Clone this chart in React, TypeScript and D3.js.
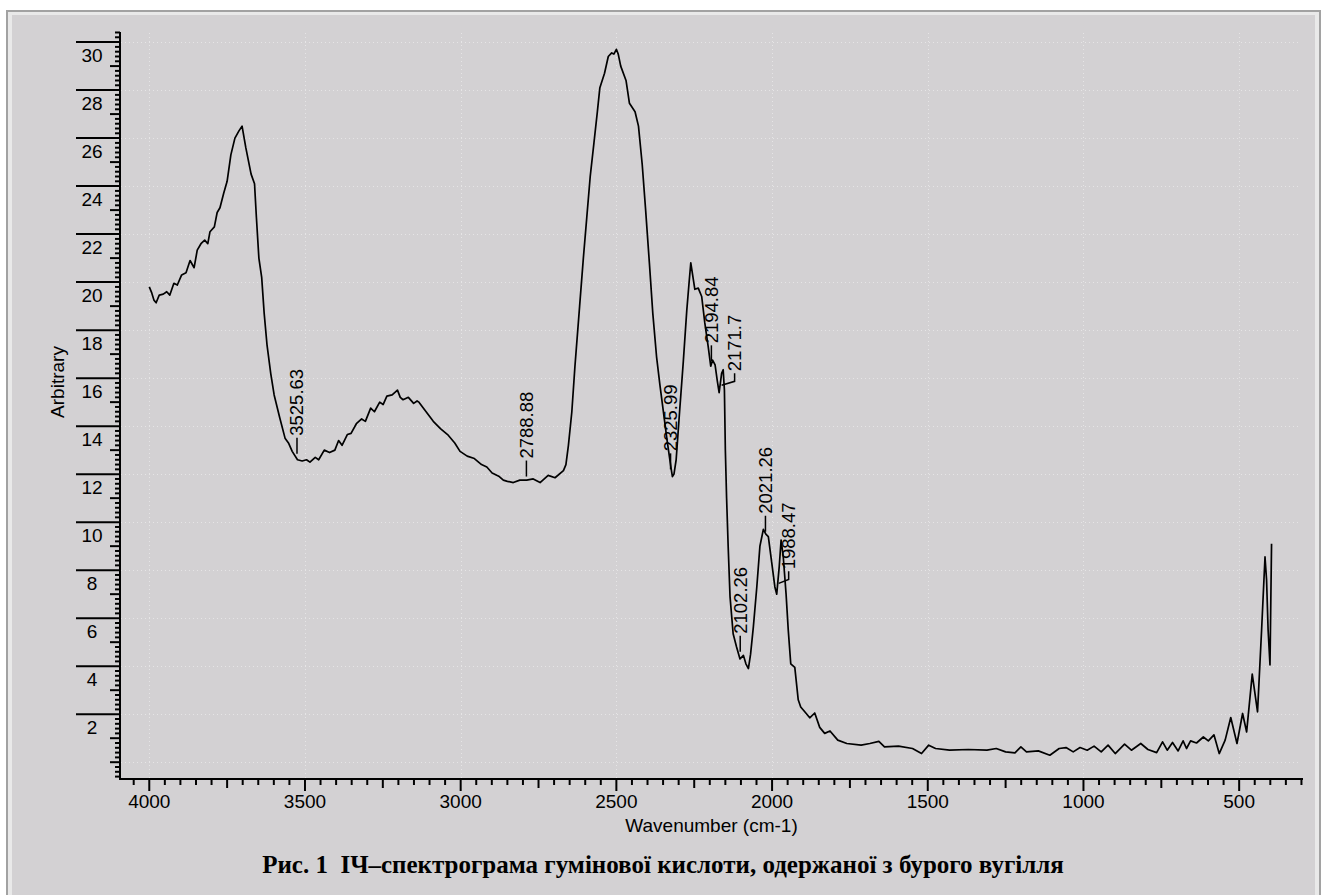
import React, { useEffect, useRef } from 'react';
import * as d3 from 'd3';

// IR spectrum (wavenumber, cm-1 -> arbitrary units)
const wavenumbers = [
  4000, 3992, 3985, 3978, 3968, 3955, 3944, 3934, 3921, 3910, 3896, 3882, 3869, 3856, 3846,
  3834, 3822, 3812, 3805, 3791, 3782, 3773, 3761, 3750, 3738, 3725, 3712, 3702, 3690, 3673,
  3662, 3656, 3648, 3639, 3631, 3622, 3610, 3599, 3581, 3564, 3553, 3541, 3524, 3509, 3495,
  3484, 3467, 3456, 3438, 3421, 3404, 3392, 3381, 3364, 3352, 3335, 3318, 3306, 3289, 3277,
  3260, 3249, 3237, 3220, 3203, 3194, 3185, 3168, 3151, 3140, 3134, 3111, 3088, 3065, 3042,
  3019, 3002, 2979, 2956, 2933, 2916, 2899, 2876, 2863, 2850, 2831, 2810, 2788, 2767, 2745,
  2719, 2697, 2670, 2662, 2654, 2643, 2633, 2618, 2606, 2595, 2584, 2572, 2561, 2553, 2538,
  2526, 2515, 2508, 2500, 2494, 2486, 2469, 2458, 2440, 2429, 2417, 2406, 2394, 2383, 2371,
  2360, 2348, 2337, 2325, 2320, 2315, 2308, 2297, 2285, 2274, 2267, 2261, 2248, 2237, 2226,
  2216, 2205, 2197, 2191, 2183, 2176, 2170, 2162, 2157, 2153, 2150, 2146, 2141, 2135, 2125,
  2114, 2103, 2092, 2084, 2076, 2069, 2060, 2049, 2039, 2028, 2020, 2012, 2001, 1991, 1985,
  1977, 1971, 1964, 1955, 1948, 1940, 1927, 1916, 1908, 1895, 1879, 1863, 1847, 1831, 1814,
  1789, 1760, 1714, 1686, 1657, 1639, 1594, 1549, 1520, 1497, 1475, 1430, 1370, 1310, 1280,
  1250, 1220, 1201, 1183, 1145, 1108, 1078, 1056, 1033, 1011, 988, 966, 943, 921, 898,
  868, 846, 816, 793, 765, 746, 731, 714, 696, 680, 669, 656, 637, 615, 599,
  581, 564, 545, 527, 507, 489, 476, 458, 441, 428, 417, 412, 407, 401, 396
];
const absorbance = [
  19.8, 19.55, 19.25, 19.14, 19.46, 19.5, 19.6, 19.46, 19.95, 19.88, 20.3, 20.39, 20.9, 20.6, 21.33,
  21.6, 21.75, 21.6, 22.1, 22.3, 22.9, 23.1, 23.7, 24.2, 25.3, 26.0, 26.3, 26.5, 25.6, 24.5,
  24.1, 22.7, 21.0, 20.2, 18.7, 17.4, 16.2, 15.3, 14.35, 13.5, 13.3, 12.95, 12.6, 12.55, 12.6,
  12.5, 12.7, 12.6, 13.0, 12.9, 13.0, 13.4, 13.2, 13.65, 13.7, 14.1, 14.3, 14.2, 14.75, 14.6,
  15.0, 14.9, 15.25, 15.3, 15.5, 15.2, 15.1, 15.2, 14.95, 15.05, 15.0, 14.6, 14.2, 13.9, 13.65,
  13.3, 12.95, 12.75, 12.65, 12.4, 12.3, 12.05, 11.9, 11.75, 11.7, 11.65, 11.75, 11.75, 11.8, 11.65,
  11.95, 11.85, 12.15, 12.4, 13.2, 14.6, 16.5, 19.0, 21.0, 22.7, 24.4, 25.8, 27.1, 28.1, 28.7,
  29.4, 29.55, 29.5, 29.7, 29.5, 29.0, 28.4, 27.45, 27.1, 26.5, 24.9, 23.0, 20.8, 18.7, 16.9,
  15.7, 14.5, 13.4, 12.3, 11.9, 12.0, 12.6, 14.6, 16.7, 18.8, 19.9, 20.8, 19.7, 19.75, 19.4,
  18.3, 17.3, 16.5, 16.75, 16.55, 15.9, 15.4, 16.2, 16.35, 15.5, 13.0, 11.0, 9.0, 6.9, 5.35,
  4.8, 4.3, 4.45, 4.1, 3.9, 4.5, 5.65, 7.3, 9.0, 9.7, 9.5, 9.4, 8.3, 7.3, 7.0,
  8.15, 9.25, 8.55, 7.0, 5.5, 4.1, 3.95, 2.6, 2.3, 2.1, 1.85, 2.05, 1.45, 1.2, 1.3,
  0.92, 0.78, 0.71, 0.78, 0.87, 0.64, 0.67, 0.57, 0.36, 0.71, 0.57, 0.5, 0.53, 0.5, 0.57,
  0.43, 0.39, 0.64, 0.43, 0.47, 0.29, 0.57, 0.61, 0.43, 0.61, 0.5, 0.67, 0.43, 0.71, 0.36,
  0.75, 0.5, 0.78, 0.53, 0.4, 0.85, 0.5, 0.82, 0.47, 0.89, 0.57, 0.89, 0.8, 1.05, 0.89,
  1.14, 0.36, 0.92, 1.86, 0.78, 2.03, 1.26, 3.67, 2.1, 5.5, 8.55, 7.6, 5.5, 4.05, 9.1
];

const xTickLabels = [4000, 3500, 3000, 2500, 2000, 1500, 1000, 500];
const yTickLabels = [2, 4, 6, 8, 10, 12, 14, 16, 18, 20, 22, 24, 26, 28, 30];
const yGridValues = [0, 2, 4, 6, 8, 10, 12, 14, 16, 18, 20, 22, 24, 26, 28, 30];

// peak picks: label, wavenumber, where the leader starts, sideways shift of the label
const peakLabels = ['3525.63', '2788.88', '2325.99', '2194.84', '2171.7', '2102.26', '2021.26', '1988.47'];
const peakWavenumbers = [3525.63, 2788.88, 2325.99, 2194.84, 2171.7, 2102.26, 2021.26, 1988.47];
const peakAnchors = [12.85, 11.9, 12.2, 16.7, 15.7, 4.6, 9.6, 7.45];
const peakShifts = [0, 0, 0, 0, 16, 0, 0, 13];

const caption = 'Рис. 1  ІЧ–спектрограма гумінової кислоти, одержаної з бурого вугілля';

const W = 1327;
const H = 895;
const sans = '"Liberation Sans", Arial, sans-serif';

const App = () => {
  const svgRef = useRef(null);

  useEffect(() => {
    const svg = d3.select(svgRef.current);
    svg.selectAll('*').remove();

    // frame
    svg.append('rect').attr('x', 0).attr('y', 0).attr('width', W).attr('height', H).attr('fill', '#ffffff');
    svg.append('rect').attr('x', 7).attr('y', 11).attr('width', 1313).attr('height', 900)
      .attr('fill', '#e9e9e9').attr('stroke', '#a2a2a2').attr('stroke-width', 2);
    svg.append('rect').attr('x', 12).attr('y', 15).attr('width', 1303).attr('height', 890).attr('fill', '#d3d1d3');

    const x = d3.scaleLinear().domain([4094, 295]).range([120, 1303]);
    const y = d3.scaleLinear().domain([-0.7, 30.42]).range([779, 32]);

    // dotted grid
    const grid = svg.append('g').attr('stroke', '#e6e5e6').attr('stroke-width', 1).attr('stroke-dasharray', '1,3');
    grid.selectAll('.gy').data(yGridValues).enter().append('line')
      .attr('x1', 121).attr('x2', 1300)
      .attr('y1', (d) => Math.round(y(d)) + 0.5).attr('y2', (d) => Math.round(y(d)) + 0.5);
    grid.selectAll('.gx').data(xTickLabels).enter().append('line')
      .attr('y1', 33).attr('y2', 778)
      .attr('x1', (d) => Math.round(x(d)) + 0.5).attr('x2', (d) => Math.round(x(d)) + 0.5);

    // y axis
    const axes = svg.append('g').attr('stroke', '#000').attr('stroke-width', 2);
    axes.append('line').attr('x1', 120).attr('x2', 120).attr('y1', y(30.42)).attr('y2', 780);
    const yMinor = d3.range(-3, 153).map((i) => i / 5);
    axes.selectAll('.yt').data(yMinor).enter().append('line')
      .attr('y1', (d) => y(d)).attr('y2', (d) => y(d))
      .attr('x2', 120)
      .attr('x1', (d) => {
        const i = Math.round(d * 5);
        if (i % 10 === 0 && i !== 0) return 76;
        if (i % 5 === 0) return 110;
        return 115;
      });

    // x axis
    axes.append('line').attr('x1', 119).attr('x2', 1303).attr('y1', 779).attr('y2', 779);
    const xMinor = d3.range(4050, 299, -50);
    axes.selectAll('.xt').data(xMinor).enter().append('line')
      .attr('x1', (d) => x(d)).attr('x2', (d) => x(d))
      .attr('y1', 779)
      .attr('y2', (d) => (d % 500 === 0 ? 791 : d % 250 === 0 ? 788 : 785));

    svg.append('g').selectAll('text').data(yTickLabels).enter().append('text')
      .attr('x', 92).attr('y', (d) => y(d) + 20)
      .attr('text-anchor', 'middle').attr('font-family', sans).attr('font-size', 19).attr('fill', '#000')
      .text((d) => d);

    svg.append('g').selectAll('text').data(xTickLabels).enter().append('text')
      .attr('x', (d) => x(d)).attr('y', 808)
      .attr('text-anchor', 'middle').attr('font-family', sans).attr('font-size', 19).attr('fill', '#000')
      .text((d) => d);

    svg.append('text').attr('x', (120 + 1303) / 2).attr('y', 832)
      .attr('text-anchor', 'middle').attr('font-family', sans).attr('font-size', 19)
      .text('Wavenumber (cm-1)');

    svg.append('text').attr('transform', 'translate(57,382) rotate(-90)')
      .attr('dy', '0.35em').attr('text-anchor', 'middle').attr('font-family', sans).attr('font-size', 19)
      .text('Arbitrary');

    // spectrum
    const line = d3.line()
      .x((d) => x(d[0]))
      .y((d) => y(d[1]));
    const pts = wavenumbers.map((w, i) => [w, absorbance[i]]);
    svg.append('path').datum(pts).attr('d', line)
      .attr('fill', 'none').attr('stroke', '#000').attr('stroke-width', 1.7).attr('stroke-linejoin', 'round');

    // peak labels
    const peaks = svg.append('g');
    peakLabels.forEach((label, i) => {
      const x0 = x(peakWavenumbers[i]);
      const ys = y(peakAnchors[i]);
      const dx = peakShifts[i];
      let d;
      let top;
      if (dx) {
        d = `M${x0 + 3},${ys} L${x0 + dx},${ys - 4} L${x0 + dx},${ys - 12}`;
        top = ys - 14;
      } else {
        d = `M${x0},${ys} L${x0},${ys - 16}`;
        top = ys - 18;
      }
      peaks.append('path').attr('d', d).attr('fill', 'none').attr('stroke', '#000').attr('stroke-width', 1.5);
      peaks.append('text')
        .attr('transform', `translate(${x0 + dx},${top}) rotate(-90)`)
        .attr('dy', '0.35em').attr('font-family', sans).attr('font-size', 18.5).attr('fill', '#000')
        .text(label);
    });

    svg.append('text').attr('x', 663).attr('y', 873)
      .attr('text-anchor', 'middle').attr('font-family', '"Liberation Serif", "Times New Roman", serif')
      .attr('font-weight', 'bold').attr('font-size', 25).attr('xml:space', 'preserve')
      .style('white-space', 'pre')
      .text(caption);
  }, []);

  return <svg ref={svgRef} width={W} height={H} style={{ position: 'absolute', left: 0, top: 0, display: 'block' }} />;
};

export default App;
